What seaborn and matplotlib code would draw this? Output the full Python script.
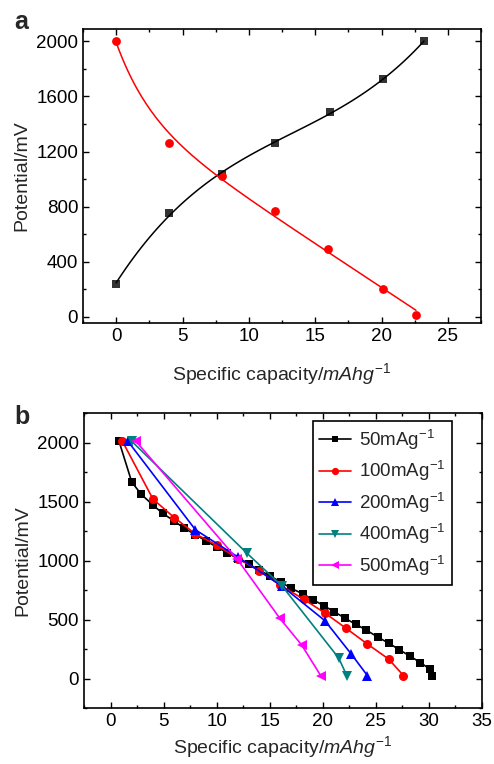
import numpy as np
import pandas as pd
import matplotlib
matplotlib.use("Agg")
import matplotlib.pyplot as plt
from matplotlib.ticker import MultipleLocator
import seaborn as sns

# ---------------- data: panel a ----------------
a_charge_x = [0.0, 4.0, 8.0, 12.0, 16.1, 20.1, 23.2]
a_charge_y = [240, 755, 1035, 1265, 1485, 1725, 2000]
a_disch_x = [0.0, 4.0, 8.0, 12.0, 16.0, 20.1, 22.6]
a_disch_y = [2005, 1265, 1020, 770, 495, 205, 10]

# ---------------- data: panel b ----------------
b50_x = [0.8, 2.0, 2.9, 4.0, 4.9, 6.0, 6.9, 8.0, 9.0, 10.0, 11.0, 12.0, 13.0, 14.0, 15.0,
         16.1, 17.0, 18.1, 19.1, 20.1, 21.1, 22.1, 23.1, 24.1, 25.2, 26.2, 27.2, 28.2, 29.2,
         30.1, 30.3]
b50_y = [2010, 1665, 1560, 1470, 1400, 1335, 1275, 1220, 1165, 1115, 1065, 1015, 970, 920,
         870, 815, 765, 718, 667, 616, 565, 510, 460, 410, 350, 300, 245, 190, 135, 78, 22]
b100_x = [1.1, 4.0, 6.0, 8.0, 10.0, 12.0, 14.0, 16.0, 18.2, 20.2, 22.2, 24.2, 26.2, 27.6]
b100_y = [2014, 1520, 1364, 1225, 1130, 1015, 915, 790, 672, 555, 425, 292, 165, 25]
b200_x = [1.6, 8.0, 12.0, 16.2, 20.2, 22.7, 24.2]
b200_y = [2015, 1260, 1030, 780, 490, 205, 25]
b400_x = [2.0, 12.85, 16.2, 21.5, 22.3]
b400_y = [2010, 1062, 780, 173, 17]
b500_x = [2.4, 11.95, 15.95, 18.0, 19.8]
b500_y = [2010, 1010, 510, 285, 25]

b_labels = ["50mAg$^{-1}$", "100mAg$^{-1}$", "200mAg$^{-1}$", "400mAg$^{-1}$", "500mAg$^{-1}$"]

sns.set_style("ticks")
plt.rcParams["font.family"] = ["Liberation Sans", "DejaVu Sans"]
plt.rcParams["mathtext.fontset"] = "custom"
plt.rcParams["mathtext.rm"] = "Liberation Sans"
plt.rcParams["mathtext.it"] = "Liberation Sans:italic"
plt.rcParams["axes.linewidth"] = 1.2
plt.rcParams["axes.edgecolor"] = "black"

fig = plt.figure(figsize=(4.94, 7.64), dpi=100)
ax1 = fig.add_axes([83 / 494, 1 - 323 / 764, 398 / 494, 294 / 764])
ax2 = fig.add_axes([84 / 494, 1 - 708 / 764, 398 / 494, 295 / 764])

TFS = 13.5
LFS = 14
xlab = r"Specific capacity/$\mathit{mAhg}^{\mathrm{-1}}$"


def smooth_fit(xs, ys, n=200):
    """Least-squares fit of a linear + exponential-decay trend to the points."""
    x = np.asarray(xs, float)
    y = np.asarray(ys, float)
    best = None
    for t in np.linspace(2.5, 10, 151):
        A = np.column_stack([np.ones_like(x), x, np.exp(-x / t)])
        coef, *_ = np.linalg.lstsq(A, y, rcond=None)
        sse = np.sum((A @ coef - y) ** 2)
        if best is None or sse < best[0]:
            best = (sse, t, coef)
    _, t, coef = best
    xf = np.linspace(x.min(), x.max(), n)
    yf = coef[0] + coef[1] * xf + coef[2] * np.exp(-xf / t)
    return xf, yf


# ---- panel a ----
dfa1 = pd.DataFrame({"x": a_charge_x, "y": a_charge_y})
sns.regplot(data=dfa1, x="x", y="y", order=3, ci=None, ax=ax1, color="black",
            marker="s", scatter_kws={"s": 36, "linewidths": 0},
            line_kws={"lw": 1.1})
xf, yf = smooth_fit(a_disch_x, a_disch_y)
sns.lineplot(x=xf, y=yf, ax=ax1, color="red", lw=1.1, sort=False)
sns.scatterplot(x=a_disch_x, y=a_disch_y, ax=ax1, color="red", marker="o", s=40,
                linewidth=0)
ax1.set_xlim(-2.5, 27.5)
ax1.set_ylim(-45, 2090)
ax1.xaxis.set_major_locator(MultipleLocator(5))
ax1.xaxis.set_minor_locator(MultipleLocator(2.5))
ax1.yaxis.set_major_locator(MultipleLocator(400))
ax1.yaxis.set_minor_locator(MultipleLocator(200))
ax1.set_xlabel(xlab, fontsize=LFS, labelpad=12)
ax1.set_ylabel("Potential/mV", fontsize=LFS, labelpad=4)

# ---- panel b ----
series = [(b50_x, b50_y, "black", "s", 5.5),
          (b100_x, b100_y, "#ff0000", "o", 6.5),
          (b200_x, b200_y, "#0000ff", "^", 7),
          (b400_x, b400_y, "#008080", "v", 7),
          (b500_x, b500_y, "#ff00ff", "<", 7)]
for (xs, ys, c, m, ms), lab in zip(series, b_labels):
    sns.lineplot(x=xs, y=ys, ax=ax2, color=c, marker=m, markersize=ms,
                 markeredgewidth=0, lw=1.2, sort=False, label=lab)
ax2.set_xlim(-2.5, 35)
ax2.set_ylim(-250, 2250)
ax2.xaxis.set_major_locator(MultipleLocator(5))
ax2.xaxis.set_minor_locator(MultipleLocator(2.5))
ax2.yaxis.set_major_locator(MultipleLocator(500))
ax2.yaxis.set_minor_locator(MultipleLocator(250))
ax2.set_xlabel(xlab, fontsize=LFS, labelpad=3)
ax2.set_ylabel("Potential/mV", fontsize=LFS, labelpad=4)
leg = ax2.legend(loc="upper right", bbox_to_anchor=(0.924, 0.973), fontsize=TFS,
                 frameon=True, fancybox=False, edgecolor="black", framealpha=1,
                 handlelength=1.7, borderpad=0.35, labelspacing=0.4, handletextpad=0.4,
                 borderaxespad=0.0, markerscale=0.8)
leg.get_frame().set_linewidth(1.2)

for ax in (ax1, ax2):
    ax.tick_params(which="both", direction="in", top=True, right=True,
                   labelsize=TFS, width=1.0, colors="black")
    ax.tick_params(which="major", length=4)
    ax.tick_params(which="minor", length=2.5)
    for s in ax.spines.values():
        s.set_visible(True)
        s.set_color("black")

fig.text(14 / 494, 1 - 29 / 764, "a", fontsize=18, fontweight="bold", ha="left", va="baseline")
fig.text(14 / 494, 1 - 424 / 764, "b", fontsize=18, fontweight="bold", ha="left", va="baseline")

fig.savefig("out.png", dpi=100)
